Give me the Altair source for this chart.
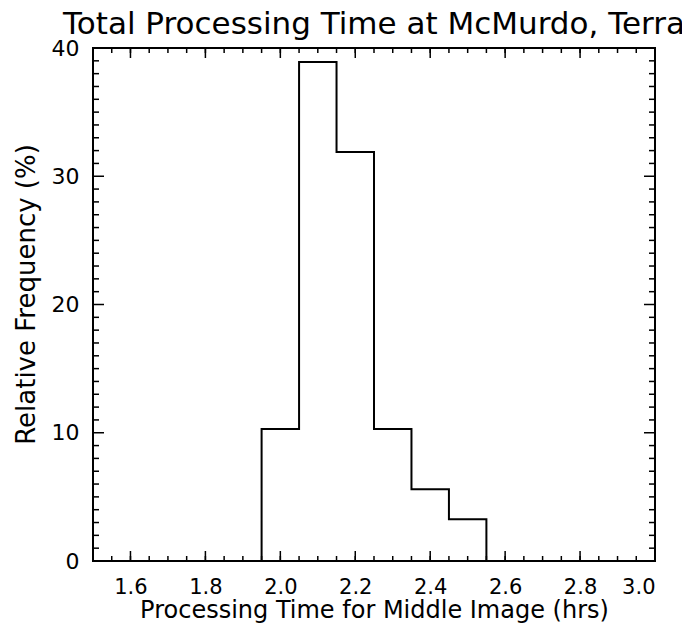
import altair as alt
import pandas as pd

# Histogram data (bin edges in hours, relative frequency in %)
bin_edges = [1.95, 2.05, 2.15, 2.25, 2.35, 2.45, 2.55]
rel_freq = [10.3, 38.9, 31.9, 10.3, 5.6, 3.25]

# Axis tick labels
x_labels = [1.6, 1.8, 2.0, 2.2, 2.4, 2.6, 2.8, 3.0]
y_labels = [0, 10, 20, 30, 40]

# Inward tick positions
x_major = [1.6, 1.8, 2.0, 2.2, 2.4, 2.6, 2.8]
x_minor = [1.55, 1.60, 1.65, 1.70, 1.75, 1.80, 1.85, 1.90, 1.95, 2.00,
           2.05, 2.10, 2.15, 2.20, 2.25, 2.30, 2.35, 2.40, 2.45, 2.50,
           2.55, 2.60, 2.65, 2.70, 2.75, 2.80, 2.85, 2.90, 2.95]
y_major = [10, 20, 30]
y_minor = [1, 2, 3, 4, 5, 6, 7, 8, 9, 11, 12, 13, 14, 15, 16, 17, 18, 19,
           21, 22, 23, 24, 25, 26, 27, 28, 29, 31, 32, 33, 34, 35, 36, 37, 38, 39]

W, H = 562, 513
FONT = "DejaVu Sans"

# step outline points built from the bins
px = [bin_edges[0]] + bin_edges
py = [0] + rel_freq + [0]
hist = pd.DataFrame({"x": px, "y": py, "i": list(range(len(px)))})

xs = alt.Scale(domain=[1.5, 3.0], nice=False, zero=False)
ys = alt.Scale(domain=[0, 40], nice=False, zero=False)

x_axis = alt.Axis(values=x_labels, format=".1f", ticks=False, domain=False,
                  grid=False, labelFont=FONT, labelFontSize=21,
                  labelColor="black", labelPadding=15,
                  title="Processing Time for Middle Image (hrs)",
                  titleFont=FONT, titleFontSize=24, titleFontWeight="normal",
                  titleColor="black", titleBaseline="alphabetic", titleY=56)
y_axis = alt.Axis(values=y_labels, format="d", ticks=False, domain=False,
                  grid=False, labelFont=FONT, labelFontSize=22,
                  labelColor="black", labelPadding=14,
                  title="Relative Frequency (%)",
                  titleFont=FONT, titleFontSize=26, titleFontWeight="normal",
                  titleColor="black", titlePadding=12, titleY=246)

line = alt.Chart(hist).mark_line(
    interpolate="step-after", color="black", strokeWidth=2
).encode(
    x=alt.X("x:Q", scale=xs, axis=x_axis),
    y=alt.Y("y:Q", scale=ys, axis=y_axis),
    order="i:Q",
)

def xticks(vals, length, top):
    df = pd.DataFrame({"v": vals})
    y0 = 0 if top else H
    y1 = length if top else H - length
    return alt.Chart(df).mark_rule(color="black", strokeWidth=1.5).encode(
        x=alt.X("v:Q", scale=xs, axis=x_axis),
        y=alt.value(y0), y2=alt.value(y1))

def yticks(vals, length, left):
    df = pd.DataFrame({"v": vals})
    x0 = 0 if left else W
    x1 = length if left else W - length
    return alt.Chart(df).mark_rule(color="black", strokeWidth=1.5).encode(
        y=alt.Y("v:Q", scale=ys, axis=y_axis),
        x=alt.value(x0), x2=alt.value(x1))

layers = [
    line,
    xticks(x_minor, 5, True), xticks(x_minor, 5, False),
    xticks(x_major, 10, True), xticks(x_major, 10, False),
    yticks(y_minor, 6, True), yticks(y_minor, 6, False),
    yticks(y_major, 11, True), yticks(y_major, 11, False),
]

chart = alt.layer(*layers).properties(
    width=W, height=H,
    background="white",
    title=alt.TitleParams("Total Processing Time at McMurdo, Terra", font=FONT,
                          fontSize=31, fontWeight="normal", color="black",
                          anchor="middle", offset=0, dy=4),
    autosize=alt.AutoSizeParams(type="none"),
    padding={"left": 85, "top": 40, "right": 27, "bottom": 62},
).configure_view(stroke="black", strokeWidth=2)

chart.save("out.html", embed_options={"renderer": "svg", "actions": False})
